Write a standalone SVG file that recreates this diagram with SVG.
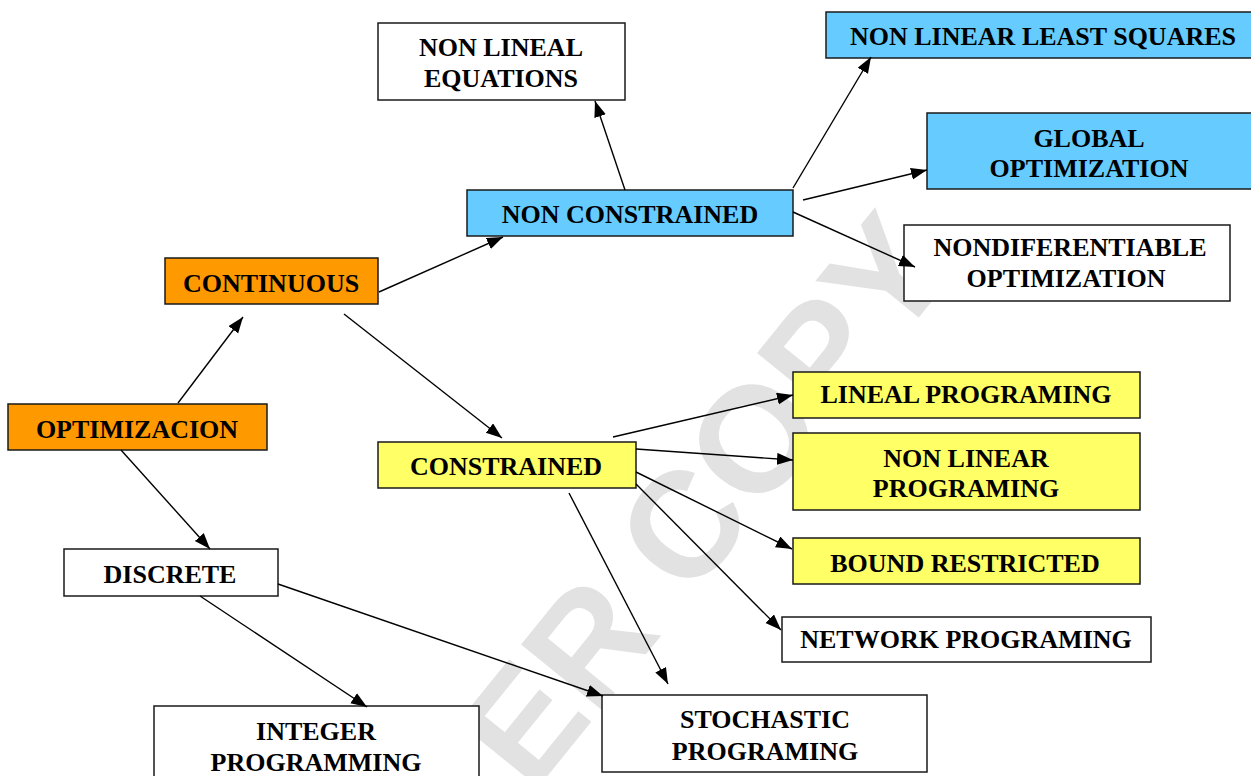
<svg xmlns="http://www.w3.org/2000/svg" width="1251" height="776" viewBox="0 0 1251 776">
<style>
.box{stroke:#1a1a1a;stroke-width:1.5}
.w{fill:#ffffff}
.o{fill:#ff9900}
.b{fill:#66ccff}
.y{fill:#ffff66}
.t{font-family:"Liberation Serif","Times New Roman",serif;font-weight:bold;font-size:26px;fill:#000;text-anchor:middle}
.e{stroke:#000;stroke-width:1.4;fill:none;marker-end:url(#ah)}
.wm{font-family:"Liberation Sans",Arial,sans-serif;font-weight:bold;font-size:150px;fill:#e2e2e2}
</style>
<defs>
<marker id="ah" markerUnits="userSpaceOnUse" markerWidth="17" markerHeight="13" refX="16" refY="6" orient="auto">
<path d="M0,0 L16,6 L0,12 z" fill="#000"/>
</marker>
</defs>
<rect width="1251" height="776" fill="#ffffff"/>

<text class="wm" x="532" y="795" transform="rotate(-51 532 795)">ER COPY</text>

<g id="nodes">
<g id="n-nonlineal-eq"><rect class="box w" x="378" y="23" width="247" height="77"/><text class="t" x="501" y="56">NON LINEAL</text><text class="t" x="501" y="87">EQUATIONS</text></g>
<g id="n-nlls"><rect class="box b" x="826" y="12" width="430" height="46"/><text class="t" x="1043" y="45">NON LINEAR LEAST SQUARES</text></g>
<g id="n-global"><rect class="box b" x="927" y="113" width="329" height="76"/><text class="t" x="1089" y="147">GLOBAL</text><text class="t" x="1089" y="177">OPTIMIZATION</text></g>
<g id="n-nonconstrained"><rect class="box b" x="467" y="190" width="326" height="46"/><text class="t" x="630" y="223">NON CONSTRAINED</text></g>
<g id="n-nondif"><rect class="box w" x="904" y="225" width="326" height="76"/><text class="t" x="1070" y="256">NONDIFERENTIABLE</text><text class="t" x="1066" y="287">OPTIMIZATION</text></g>
<g id="n-continuous"><rect class="box o" x="165" y="258" width="213" height="46"/><text class="t" x="271" y="292">CONTINUOUS</text></g>
<g id="n-optimizacion"><rect class="box o" x="8" y="404" width="259" height="46"/><text class="t" x="137" y="438">OPTIMIZACION</text></g>
<g id="n-discrete"><rect class="box w" x="64" y="549" width="214" height="47"/><text class="t" x="170" y="583">DISCRETE</text></g>
<g id="n-constrained"><rect class="box y" x="378" y="442" width="258" height="46"/><text class="t" x="506" y="475">CONSTRAINED</text></g>
<g id="n-lineal-prog"><rect class="box y" x="793" y="372" width="347" height="46"/><text class="t" x="966" y="403">LINEAL PROGRAMING</text></g>
<g id="n-nonlinear-prog"><rect class="box y" x="793" y="433" width="347" height="77"/><text class="t" x="966" y="467">NON LINEAR</text><text class="t" x="966" y="497">PROGRAMING</text></g>
<g id="n-bound"><rect class="box y" x="793" y="538" width="347" height="46"/><text class="t" x="965" y="572">BOUND RESTRICTED</text></g>
<g id="n-network"><rect class="box w" x="782" y="617" width="369" height="45"/><text class="t" x="966" y="648">NETWORK PROGRAMING</text></g>
<g id="n-stochastic"><rect class="box w" x="602" y="695" width="325" height="77"/><text class="t" x="765" y="728">STOCHASTIC</text><text class="t" x="765" y="760">PROGRAMING</text></g>
<g id="n-integer"><rect class="box w" x="154" y="706" width="325" height="80"/><text class="t" x="316" y="740">INTEGER</text><text class="t" x="316" y="771">PROGRAMMING</text></g>
</g>

<g id="connectors">
<line class="e" x1="178" y1="403" x2="243" y2="317"/>
<line class="e" x1="121" y1="450" x2="210" y2="549"/>
<line class="e" x1="379" y1="292" x2="503" y2="237"/>
<line class="e" x1="344" y1="314" x2="502" y2="438"/>
<line class="e" x1="625" y1="190" x2="595" y2="101"/>
<line class="e" x1="793" y1="188" x2="871" y2="57"/>
<line class="e" x1="803" y1="200" x2="927" y2="170"/>
<line class="e" x1="793" y1="212" x2="915" y2="267"/>
<line class="e" x1="613" y1="437" x2="793" y2="395"/>
<line class="e" x1="636" y1="449" x2="793" y2="460"/>
<line class="e" x1="636" y1="472" x2="792" y2="549"/>
<line class="e" x1="636" y1="484" x2="781" y2="630"/>
<line class="e" x1="569" y1="493" x2="668" y2="684"/>
<line class="e" x1="278" y1="584" x2="603" y2="696"/>
<line class="e" x1="200" y1="596" x2="367" y2="707"/>
</g>
</svg>
